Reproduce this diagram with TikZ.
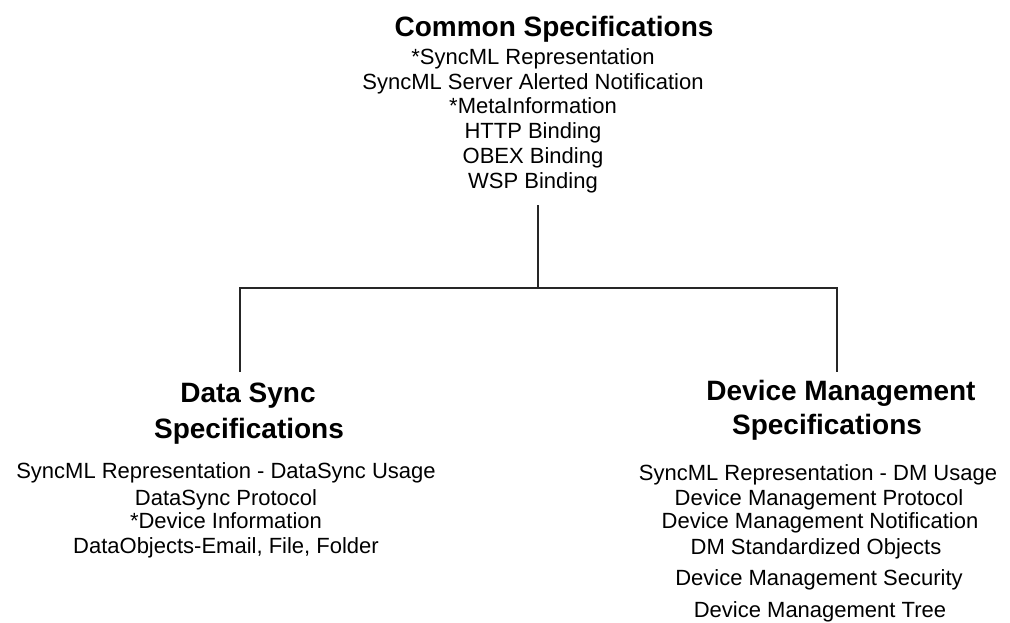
\documentclass[tikz,border=0pt]{standalone}
\usepackage{fontspec}
\setmainfont{Liberation Sans}
\begin{document}
\begin{tikzpicture}[x=1pt,y=-1pt,
  body/.style={inner sep=0pt, anchor=base, font=\fontsize{22}{26}\selectfont},
  head/.style={inner sep=0pt, anchor=base, font=\fontsize{28}{32}\selectfont\bfseries},
  conn/.style={line width=1.3pt, draw=black!85}]
\useasboundingbox (0,0) rectangle (1010,622);
% Common
\node[head] (ct) at (554,36) {Common Specifications};
\node[body] (c1) at (533,64) {*SyncML Representation};
\node[body] (c2) at (533,89) {SyncML Server Alerted Notification};
\node[body] (c3) at (533,113) {*MetaInformation};
\node[body] (c4) at (533,138) {HTTP Binding};
\node[body] (c5) at (533,163) {OBEX Binding};
\node[body] (c6) at (533,188) {WSP Binding};
% Data Sync
\node[head] (dt1) at (248,402) {Data Sync};
\node[head] (dt2) at (249,438) {Specifications};
\node[body] (d1) at (226,478) {SyncML Representation - DataSync Usage};
\node[body] (d2) at (226,505) {DataSync Protocol};
\node[body] (d3) at (226,528) {*Device Information};
\node[body] (d4) at (226,553) {DataObjects-Email, File, Folder};
% Device Management
\node[head] (mt1) at (841,400) {Device Management};
\node[head] (mt2) at (827,434) {Specifications};
\node[body] (m1) at (818,480) {SyncML Representation - DM Usage};
\node[body] (m2) at (819,505) {Device Management Protocol};
\node[body] (m3) at (820,528) {Device Management Notification};
\node[body] (m4) at (816,554) {DM Standardized Objects};
\node[body] (m5) at (819,585) {Device Management Security};
\node[body] (m6) at (820,617) {Device Management Tree};
% connectors
\coordinate (ctop) at (538,205);
\coordinate (hub) at (538,288);
\coordinate (dsend) at (240,372);
\coordinate (dmend) at (837,372);
\draw[conn] (ctop) -- (hub);
\draw[conn] (dsend) |- (hub) -| (dmend);
\end{tikzpicture}
\end{document}
